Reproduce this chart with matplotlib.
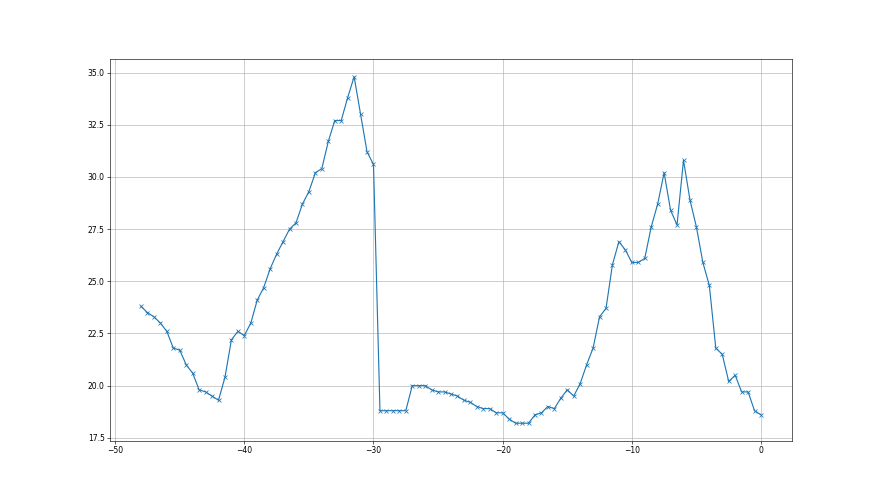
import matplotlib
matplotlib.use('Agg')
import matplotlib.pyplot as plt
import numpy as np

# x positions, every half unit from -48 to 0
x = np.arange(-48, 0.5, 0.5)

y = [23.8, 23.5, 23.3, 23.0, 22.6, 21.8, 21.7, 21.0, 20.6, 19.8,
     19.7, 19.5, 19.3, 20.4, 22.2, 22.6, 22.4, 23.0, 24.1, 24.7,
     25.6, 26.3, 26.9, 27.5, 27.8, 28.7, 29.3, 30.2, 30.4, 31.7,
     32.7, 32.7, 33.8, 34.8, 33.0, 31.2, 30.6,
     18.8, 18.8, 18.8, 18.8, 18.8, 20.0, 20.0, 20.0, 19.8,
     19.7, 19.7, 19.6, 19.5, 19.3, 19.2, 19.0, 18.9, 18.9, 18.7,
     18.7,
     18.4, 18.2, 18.2, 18.2, 18.6, 18.7, 19.0, 18.9, 19.4, 19.8,
     19.5, 20.1, 21.0, 21.8, 23.3, 23.7, 25.8, 26.9, 26.5, 25.9,
     25.9, 26.1, 27.6, 28.7, 30.2, 28.4, 27.7, 30.8, 28.9, 27.6,
     25.9, 24.8, 21.8, 21.5, 20.2, 20.5, 19.7, 19.7, 18.8, 18.6]

fig, ax = plt.subplots(figsize=(16, 9), dpi=55)
ax.plot(x, y, marker='x')
ax.grid(True)

plt.savefig('out.png', dpi=55)
